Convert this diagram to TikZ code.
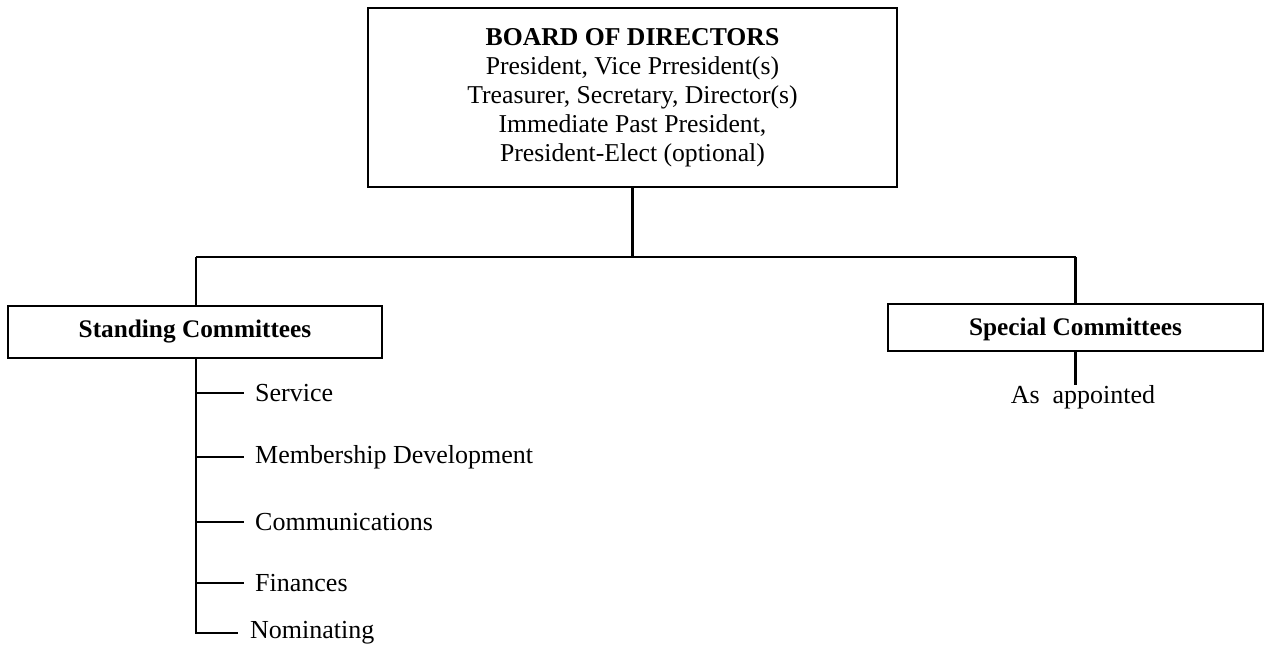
\documentclass[tikz,border=0pt]{standalone}
\usepackage{fontspec}
\setmainfont{Liberation Serif}
\begin{document}
\begin{tikzpicture}[x=1bp,y=-1bp,
  box/.style={draw=black,line width=2.6bp,inner sep=0pt,align=center},
  conn/.style={draw=black,line width=2.4bp},
  item/.style={anchor=west,inner sep=0pt,font=\fontsize{26bp}{29bp}\selectfont},
  title/.style={font=\fontsize{25.3bp}{29bp}\selectfont\bfseries}]
\useasboundingbox (0,0) rectangle (1264,650);
\node[box,minimum width=529bp,minimum height=179bp,font=\fontsize{25.7bp}{29bp}\selectfont] (board) at (632.5,97.5)
  {\textbf{BOARD OF DIRECTORS}\\President, Vice Prresident(s)\\Treasurer, Secretary, Director(s)\\Immediate Past President,\\President-Elect (optional)};
\node[box,minimum width=374bp,minimum height=52bp,title] (standing) at (195,332) {\raisebox{-2bp}{Standing Committees}};
\node[box,minimum width=375bp,minimum height=47bp] (special) at (1075.5,327.5) {};
\node[title,inner sep=0pt] (spectext) at (1075.5,329) {Special Committees};
\coordinate (jn) at (632.5,257);
\coordinate (jl) at (196,257);
\coordinate (jr) at (1075.5,257);
\draw[conn] (board.south) -- (jn);
\draw[conn] (jl) -- (jr);
\draw[conn] (jl) -- (standing.north -| jl);
\draw[conn] (jr) -- (special.north);
\node[item,anchor=base] (asapp) at (1083,403) {As\enspace appointed};
\draw[conn] (special.south) -- (1075.5,385);
\node[item] (i1) at (255,393) {Service};
\node[item] (i2) at (255,457) {Membership Development};
\node[item] (i3) at (255,522) {Communications};
\node[item] (i4) at (255,583) {Finances};
\node[item] (i5) at (250,633) {Nominating};
\coordinate (spine) at (196,633);
\draw[conn] (standing.south -| spine) -- (spine) -- ([xshift=-12bp]i5.west);
\foreach \n in {i1,i2,i3,i4}
  \draw[conn] (\n.west -| spine) -- ([xshift=-11bp]\n.west);
\end{tikzpicture}
\end{document}
